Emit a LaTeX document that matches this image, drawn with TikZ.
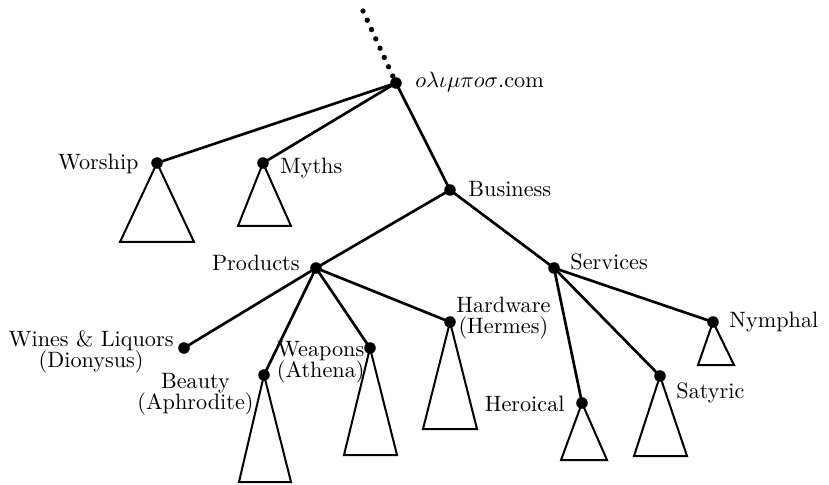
\documentclass[tikz,border=0pt]{standalone}
\usepackage{tkz-euclide}
\tikzset{>=stealth}
\tikzset{
  edge/.style={line width=1.2pt},
  subtree/.style={line width=0.9pt, line join=miter},
  lbl/.style={inner sep=0pt},
}

\begin{document}
\begin{tikzpicture}[x=0.45pt,y=-0.45pt]
\useasboundingbox (0,0) rectangle (829,485);
\tkzDefPoints{363/11/T, 396/83/O, 157/163/Wo, 263/163/My, 450/190/Bu,
  316/268/Pr, 554/268/Se, 184/348/Wi, 264/375/Be, 370/348/We,
  450/322/Ha, 582/403/He, 660/376/Sa, 713/322/Ny}
% bases of the subtrees
\tkzDefPoints{120/242/Wo1, 194/242/Wo2, 238/226/My1, 291/226/My2,
  239/482/Be1, 291/482/Be2, 344/455/We1, 397/455/We2,
  423/429/Ha1, 477/429/Ha2, 561/460/He1, 607/460/He2,
  634/456/Sa1, 687/456/Sa2, 698/365/Ny1, 734/365/Ny2}
\draw[line width=2.4pt, line cap=round, dash pattern=on 0pt off 4.6pt] (T) -- (O);
\tkzDrawSegments[edge](O,Wo O,My O,Bu Bu,Pr Bu,Se Pr,Wi Pr,Be Pr,We Pr,Ha Se,He Se,Sa Se,Ny)
\tkzDrawPolygon[subtree](Wo,Wo1,Wo2)
\tkzDrawPolygon[subtree](My,My1,My2)
\tkzDrawPolygon[subtree](Be,Be1,Be2)
\tkzDrawPolygon[subtree](We,We1,We2)
\tkzDrawPolygon[subtree](Ha,Ha1,Ha2)
\tkzDrawPolygon[subtree](He,He1,He2)
\tkzDrawPolygon[subtree](Sa,Sa1,Sa2)
\tkzDrawPolygon[subtree](Ny,Ny1,Ny2)
\foreach \p in {O,Wo,My,Bu,Pr,Se,Wi,Be,We,Ha,He,Sa,Ny}
  \fill (\p) circle (2.6pt);
\node[lbl, anchor=base west] (tO) at ([shift={(19,5)}]O) {$o\lambda\iota\mu\pi o\sigma$.com};
\node[lbl, anchor=base east] (tWo) at ([shift={(-18,7)}]Wo) {Worship};
\node[lbl, anchor=base west] (tMy) at ([shift={(17,11)}]My) {Myths};
\node[lbl, anchor=base west] (tBu) at ([shift={(18,7)}]Bu) {Business};
\node[lbl, anchor=base east] (tPr) at ([shift={(-16,3)}]Pr) {Products};
\node[lbl, anchor=base west] (tSe) at ([shift={(16,2)}]Se) {Services};
\node[lbl, anchor=north east, align=center] (tWi) at ([shift={(-10,-18)}]Wi) {Wines \& Liquors\\[-2.5pt](Dionysus)};
\node[lbl, anchor=north east, align=center] (tBe) at ([shift={(-10,-2)}]Be) {Beauty\\[-2.5pt](Aphrodite)};
\node[lbl, anchor=north east, align=center] (tWe) at ([shift={(-5,-7)}]We) {Weapons\\[-2.5pt](Athena)};
\node[lbl, anchor=north west, align=center] (tHa) at ([shift={(6,-25)}]Ha) {Hardware\\[-2.5pt](Hermes)};
\node[lbl, anchor=base west] (tNy) at ([shift={(16,5)}]Ny) {Nymphal};
\node[lbl, anchor=base west] (tSa) at ([shift={(16,22)}]Sa) {Satyric};
\node[lbl, anchor=base east] (tHe) at ([shift={(-17,8)}]He) {Heroical};
\end{tikzpicture}
\end{document}
